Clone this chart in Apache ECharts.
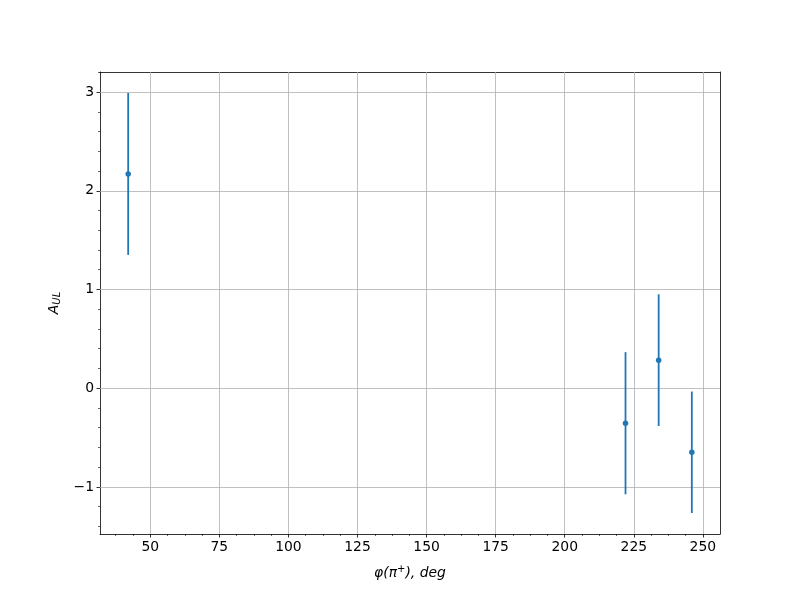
<!DOCTYPE html>
<html><head><meta charset="utf-8">
<script src="https://cdn.jsdelivr.net/npm/echarts@6/dist/echarts.min.js"></script>
<style>html,body{margin:0;padding:0;background:#fff}#c{width:800px;height:600px}</style>
</head><body><div id="c"></div>
<script>
const phi = [42, 222, 234, 246];
const aul = [2.17, -0.355, 0.284, -0.649];
const aulErr = [0.82, 0.72, 0.667, 0.615];
const xTicks = [50, 75, 100, 125, 150, 175, 200, 225, 250];
const yTicks = [-1, 0, 1, 2, 3];
const xRange = [31.8, 256.2];
const yRange = [-1.477, 3.203];

const xMinor = [];
for (let v = 25; v <= 275; v += 6.25) if (v > xRange[0] && v < xRange[1] && v % 25 !== 0) xMinor.push(v);
const yMinor = [];
for (let i = -10; i <= 20; i++) { const v = Math.round(i * 0.2 * 1000) / 1000; if (v > yRange[0] && v < yRange[1] && Math.abs(v - Math.round(v)) > 1e-6) yMinor.push(v); }

const font = 'DejaVu Sans';
const fmt = v => String(v).replace('-', '\u2212');
const chart = echarts.init(document.getElementById('c'), null, {renderer: 'canvas'});
chart.setOption({
  animation: false,
  backgroundColor: '#fff',
  grid: {left: 100, right: 80, top: 72, bottom: 66},
  xAxis: [
    {type: 'value', min: xRange[0], max: xRange[1], position: 'bottom',
     axisLine: {show: true, onZero: false, lineStyle: {color: '#000', width: 0.8}},
     axisTick: {show: true, customValues: xTicks, length: 3.5, lineStyle: {color: '#000', width: 0.8}},
     axisLabel: {customValues: xTicks, color: '#000', fontFamily: font, fontSize: 13.9, margin: 6, formatter: fmt},
     splitLine: {show: false},
     name: '{t|\u03c6(\u03c0}{s|+}{t|), deg}', nameLocation: 'middle', nameGap: 30,
     nameTextStyle: {rich: {t: {fontFamily: font, fontStyle: 'italic', fontSize: 13.9, color: '#000'},
                             s: {fontFamily: font, fontStyle: 'italic', fontSize: 10, color: '#000', verticalAlign: 'top', padding: [0,0,8,0]}}}},
    {type: 'value', min: xRange[0], max: xRange[1], position: 'bottom',
     axisLine: {show: false, onZero: false}, axisLabel: {show: false}, splitLine: {show: false},
     axisTick: {show: true, customValues: xMinor, length: 2, lineStyle: {color: '#000', width: 0.6}}},
    {type: 'value', min: xRange[0], max: xRange[1], position: 'top',
     axisLine: {show: true, onZero: false, lineStyle: {color: '#000', width: 0.8}},
     axisTick: {show: false}, axisLabel: {show: false}, splitLine: {show: false}}
  ],
  yAxis: [
    {type: 'value', min: yRange[0], max: yRange[1], position: 'left',
     axisLine: {show: true, onZero: false, lineStyle: {color: '#000', width: 0.8}},
     axisTick: {show: true, customValues: yTicks, length: 3.5, lineStyle: {color: '#000', width: 0.8}},
     axisLabel: {customValues: yTicks, color: '#000', fontFamily: font, fontSize: 13.9, margin: 6, formatter: fmt},
     splitLine: {show: false},
     name: '{t|A}{s|UL}', nameLocation: 'middle', nameGap: 38,
     nameTextStyle: {rich: {t: {fontFamily: font, fontStyle: 'italic', fontSize: 13.9, color: '#000'},
                             s: {fontFamily: font, fontStyle: 'italic', fontSize: 10, color: '#000', verticalAlign: 'bottom', padding: [6,0,0,0]}}}},
    {type: 'value', min: yRange[0], max: yRange[1], position: 'left',
     axisLine: {show: false, onZero: false}, axisLabel: {show: false}, splitLine: {show: false},
     axisTick: {show: true, customValues: yMinor, length: 2, lineStyle: {color: '#000', width: 0.6}}},
    {type: 'value', min: yRange[0], max: yRange[1], position: 'right',
     axisLine: {show: true, onZero: false, lineStyle: {color: '#000', width: 0.8}},
     axisTick: {show: false}, axisLabel: {show: false}, splitLine: {show: false}}
  ],
  series: [
    {type: 'line', data: [], silent: true,
     markLine: {silent: true, symbol: 'none', label: {show: false}, lineStyle: {color: '#b0b0b0', width: 0.8, type: 'solid'},
       emphasis: {disabled: true},
       data: xTicks.map(v => ({xAxis: v})).concat(yTicks.map(v => ({yAxis: v})))}},
    {type: 'custom', z: 5,
     data: phi.map((x, i) => [x, aul[i] - aulErr[i], aul[i] + aulErr[i]]),
     renderItem: (params, api) => {
       const a = api.coord([api.value(0), api.value(1)]);
       const b = api.coord([api.value(0), api.value(2)]);
       return {type: 'line', shape: {x1: a[0], y1: a[1], x2: b[0], y2: b[1]}, style: {stroke: '#1f77b4', lineWidth: 1.8}};
     }},
    {type: 'scatter', z: 6, symbol: 'circle', symbolSize: 5.5,
     itemStyle: {color: '#1f77b4', opacity: 1},
     data: phi.map((x, i) => [x, aul[i]])}
  ]
});
</script></body></html>
